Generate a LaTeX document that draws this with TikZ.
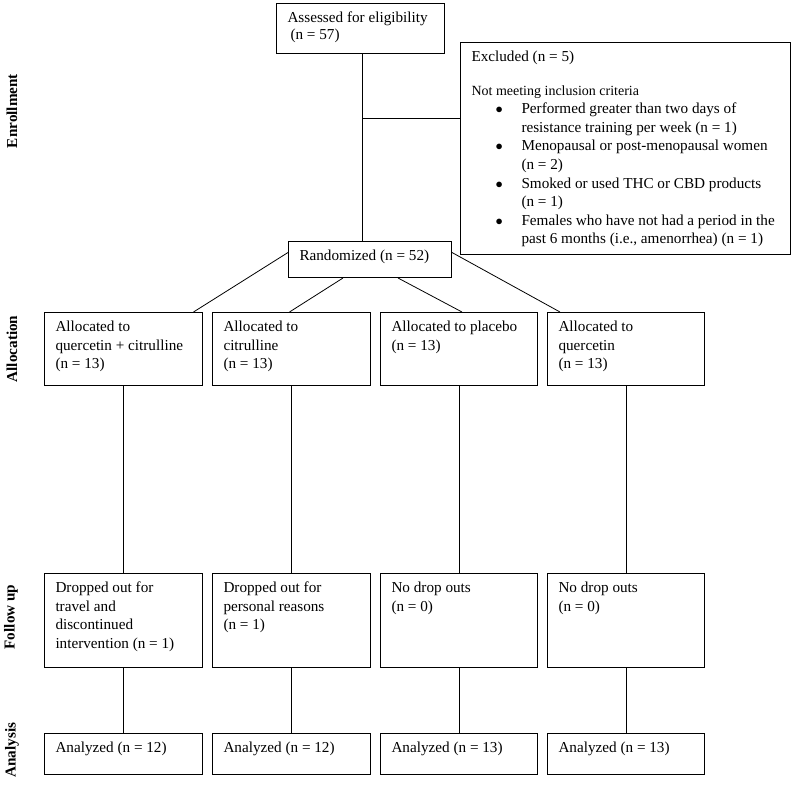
\documentclass[tikz,border=0pt]{standalone}
\usepackage{fontspec}
\setmainfont{Liberation Serif}
\usetikzlibrary{positioning, calc}

\newcommand{\cellbox}[3]{\parbox[c][\dimexpr#2pt-12pt\relax][t]{\dimexpr#1pt-22pt\relax}{\raggedright\strut#3}}
\newcommand{\bul}{\makebox[50pt][l]{\hspace*{24pt}$\bullet$}}
\newcommand{\ind}{\hspace*{50pt}}

\begin{document}
\begin{tikzpicture}[
    x=1pt, y=-1pt,
    font=\fontsize{15.2}{18.6}\selectfont,
    cell/.style={draw, line width=1pt, anchor=north west, inner xsep=11pt, inner ysep=6pt},
    phase/.style={rotate=90, font=\fontsize{15.2}{18}\selectfont\bfseries},
    link/.style={line width=0.8pt}
  ]
    \useasboundingbox (0,0) rectangle (800,784);

    % Phase labels
    \node[phase] (enrol) at (12,111) {Enrollment};
    \node[phase] (alloc) at (12,349) {Allocation};
    \node[phase] (follow) at (11,617) {Follow up};
    \node[phase] (anal) at (12,750) {Analysis};

    % Enrollment
    \node[cell] (assess) at (276,3) {\cellbox{168}{50}{\setlength\baselineskip{15pt}Assessed for eligibility\\\hspace*{3pt}(n = 57)}};
    \node[cell] (excl) at (460,42) {\cellbox{330}{212}{Excluded (n = 5)\\[15pt]
      {\fontsize{14}{18.6}\selectfont Not meeting inclusion criteria}\\
      \bul Performed greater than two days of\\
      \ind resistance training per week (n = 1)\\
      \bul Menopausal or post-menopausal women\\
      \ind (n = 2)\\
      \bul Smoked or used THC or CBD products\\
      \ind (n = 1)\\
      \bul Females who have not had a period in the\\
      \ind past 6 months (i.e., amenorrhea) (n = 1)}};
    \node[cell] (rand) at (288,241) {\cellbox{163}{36}{Randomized (n = 52)}};

    % Allocation
    \node[cell] (a1) at (44,312) {\cellbox{158}{73}{Allocated to\\quercetin + citrulline\\(n = 13)}};
    \node[cell] (a2) at (212,312) {\cellbox{158}{73}{Allocated to\\citrulline\\(n = 13)}};
    \node[cell] (a3) at (380,312) {\cellbox{157}{73}{Allocated to placebo\\(n = 13)}};
    \node[cell] (a4) at (547,312) {\cellbox{157}{73}{Allocated to\\quercetin\\(n = 13)}};

    % Follow up
    \node[cell] (f1) at (44,573) {\cellbox{158}{94}{Dropped out for\\travel and\\discontinued\\intervention (n = 1)}};
    \node[cell] (f2) at (212,573) {\cellbox{158}{94}{Dropped out for\\personal reasons\\(n = 1)}};
    \node[cell] (f3) at (380,573) {\cellbox{157}{94}{No drop outs\\(n = 0)}};
    \node[cell] (f4) at (547,573) {\cellbox{157}{94}{No drop outs\\(n = 0)}};

    % Analysis
    \node[cell] (n1) at (44,733) {\cellbox{158}{41}{Analyzed (n = 12)}};
    \node[cell] (n2) at (212,733) {\cellbox{158}{41}{Analyzed (n = 12)}};
    \node[cell] (n3) at (380,733) {\cellbox{157}{41}{Analyzed (n = 13)}};
    \node[cell] (n4) at (547,733) {\cellbox{157}{41}{Analyzed (n = 13)}};

    % Connectors
    \coordinate (split) at (362,118);
    \draw[link] ([xshift=2pt]assess.south) -- ([xshift=2pt]assess.south |- rand.north);
    \draw[link] (split) -- (split -| excl.west);
    \draw[link] ([yshift=7pt]rand.west) -- ([xshift=70pt]a1.north);
    \draw[link] ([xshift=-27pt]rand.south) -- ([xshift=-2pt]a2.north);
    \draw[link] ([xshift=28pt]rand.south) -- ([xshift=3pt]a3.north);
    \draw[link] ([yshift=7pt]rand.east) -- ([xshift=-66pt]a4.north);
    \foreach \i in {1,...,4} {
      \draw[link] (a\i.south) -- (f\i.north);
      \draw[link] (f\i.south) -- (n\i.north);
    }
\end{tikzpicture}
\end{document}
